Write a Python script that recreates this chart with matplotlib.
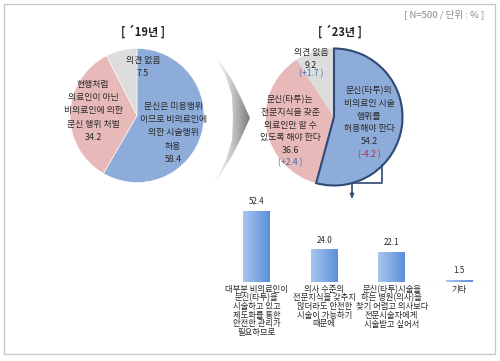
import numpy as np
import matplotlib
matplotlib.use('Agg')
import matplotlib.pyplot as plt
import matplotlib.patches as patches
from matplotlib.path import Path

plt.rcParams['font.family'] = ['Noto Sans CJK KR', 'DejaVu Sans']

# data
pie19_values = [58.4, 34.2, 7.5]
pie23_values = [54.2, 36.6, 9.2]
pie23_change = ['(-4.2 )', '(+2.4 )', '(+1.7 )']
bar_values = [52.4, 24.0, 22.1, 1.5]
bar_labels = ['대부분 비의료인이\n문신(타투)을\n시술하고 있고\n제도화를 통한\n안전한 관리가\n필요하므로',
              '의사 수준의\n전문지식을 갖추지\n않더라도 안전한\n시술이 가능하기\n때문에',
              '문신(타투)시술을\n하는 병원(의사)을\n찾기 어렵고 의사보다\n전문시술자에게\n시술받고 싶어서',
              '기타']

blue = '#8dacda'
pink = '#e8b9b9'
gray = '#dddddd'
txt = '#2a2a2a'

fig = plt.figure(figsize=(5, 3.61), dpi=100)


def pixel_axes():
    a = fig.add_axes([0, 0, 1, 1])
    a.set_xlim(0, 500)
    a.set_ylim(361, 0)
    a.axis('off')
    a.patch.set_alpha(0)
    return a


# base axes in pixel coordinates
base = pixel_axes()

# outer frame
base.add_patch(patches.Rectangle((4, 4), 491, 350, fill=False, edgecolor='#c8c8c8', lw=1))

# curved arrow between pies with grey gradient
verts = [(213, 52), (232, 80), (241, 98), (250, 118), (241, 138), (232, 156), (213, 186),
         (226, 160), (232, 140), (233, 118), (232, 96), (226, 76), (213, 52)]
codes = [Path.MOVETO] + [Path.LINETO] * (len(verts) - 2) + [Path.CLOSEPOLY]
arrow = patches.PathPatch(Path(verts, codes), facecolor='none', edgecolor='none')
base.add_patch(arrow)
grad = np.linspace(0, 1, 256).reshape(1, -1)
im = base.imshow(grad, extent=[213, 251, 186, 52], cmap=matplotlib.colors.LinearSegmentedColormap.from_list(
    'g', ['#ffffff', '#c8c8c8', '#787878']), aspect='auto', zorder=1)
im.set_clip_path(arrow)
base.set_xlim(0, 500)
base.set_ylim(361, 0)


def pie_axes(cx, cy, half):
    a = fig.add_axes([(cx - half) / 500, 1 - (cy + half) / 361, 2 * half / 500, 2 * half / 361])
    a.set_xlim(-half, half)
    a.set_ylim(-half, half)
    a.axis('off')
    return a


# '19 pie
ax1 = pie_axes(137, 115.5, 72)
ax1.pie(pie19_values, colors=[blue, pink, gray], startangle=90, counterclock=False, radius=67,
        wedgeprops=dict(edgecolor='white', linewidth=0.4))
ax1.set_xlim(-72, 72)
ax1.set_ylim(-72, 72)

# '23 pie
ax2 = pie_axes(334, 117, 75)
w2, _ = ax2.pie(pie23_values, colors=[blue, pink, gray], startangle=90, counterclock=False, radius=68.5,
                wedgeprops=dict(edgecolor='none'))
w2[0].set_edgecolor('#2f4a74')
w2[0].set_linewidth(1.5)
w2[0].set_zorder(3)
ax2.set_xlim(-75, 75)
ax2.set_ylim(-75, 75)

# overlay for texts and bracket
top = pixel_axes()

top.text(444, 14, '[ N=500 / 단위 : % ]', fontsize=6.9, color='#8a8a8a', ha='center', va='center')
top.text(143, 32, '[ ´19년 ]', fontsize=8, color='#222222', ha='center', va='center', fontweight='bold')
top.text(340, 32, '[ ´23년 ]', fontsize=8, color='#222222', ha='center', va='center', fontweight='bold')

top.text(143, 67, '의견 없음\n%.1f' % pie19_values[2], fontsize=6.4, color=txt, ha='center', va='center',
         linespacing=1.45)
top.text(93, 111, '현행처럼\n의료인이 아닌\n비의료인에 의한\n문신 행위 처벌\n%.1f' % pie19_values[1],
         fontsize=6.4, color=txt, ha='center', va='center', linespacing=1.6)
top.text(173, 133, '문신은 미용행위\n이므로 비의료인에\n의한 시술행위\n허용\n%.1f' % pie19_values[0],
         fontsize=6.4, color=txt, ha='center', va='center', linespacing=1.6)

top.text(311, 59, '의견 없음\n%.1f' % pie23_values[2], fontsize=6.4, color=txt, ha='center', va='center',
         linespacing=1.45)
top.text(311, 74, pie23_change[2], fontsize=6.2, color='#3d6cb4', ha='center', va='center')
top.text(290, 125, '문신(타투)는\n전문지식을 갖춘\n의료인만 할 수\n있도록 해야 한다\n%.1f' % pie23_values[1],
         fontsize=6.4, color=txt, ha='center', va='center', linespacing=1.55)
top.text(290, 163, pie23_change[1], fontsize=6.2, color='#3d6cb4', ha='center', va='center')
top.text(369, 116, '문신(타투)의\n비의료인 시술\n행위를\n허용해야 한다\n%.1f' % pie23_values[0],
         fontsize=6.4, color=txt, ha='center', va='center', linespacing=1.55)
top.text(369, 155, pie23_change[0], fontsize=6.2, color='#b0304a', ha='center', va='center')

# bracket from '23 blue slice to bar chart
top.plot([382, 382, 352, 352], [165, 183, 183, 196], color='#2f4a74', lw=1.2)
top.annotate('', xy=(352, 201), xytext=(352, 194),
             arrowprops=dict(arrowstyle='-|>', color='#2f4a74', lw=1.0, mutation_scale=6))
top.set_xlim(0, 500)
top.set_ylim(361, 0)

# bar chart
axb = fig.add_axes([223 / 500, 1 - 282 / 361, 270 / 500, 82 / 361])
axb.set_xlim(0, 4)
axb.set_ylim(0, 60.3)
xs = np.arange(len(bar_values)) + 0.5
bars = axb.bar(xs, bar_values, width=0.4, facecolor='none', edgecolor='none')
bar_cmap = matplotlib.colors.LinearSegmentedColormap.from_list('b', ['#a9c6ee', '#5a8fdb'])
for b, v in zip(bars, bar_values):
    x0 = b.get_x()
    gi = axb.imshow(grad, extent=[x0, x0 + b.get_width(), 0, v], cmap=bar_cmap, aspect='auto', zorder=2)
    gi.set_clip_path(b)
    axb.text(b.get_x() + b.get_width() / 2, v + 3.5, '%.1f' % v, fontsize=5.8, color=txt,
             ha='center', va='bottom')
axb.set_xlim(0, 4)
axb.set_ylim(0, 60.3)
axb.axhline(0, color='#cccccc', lw=0.8, zorder=1)
for s in axb.spines.values():
    s.set_visible(False)
axb.set_yticks([])
axb.set_xticks(xs)
axb.set_xticklabels(bar_labels, fontsize=6, color=txt, linespacing=0.95)
axb.tick_params(axis='x', length=0, pad=2)
axb.patch.set_alpha(0)

fig.savefig('out.png', dpi=100)
